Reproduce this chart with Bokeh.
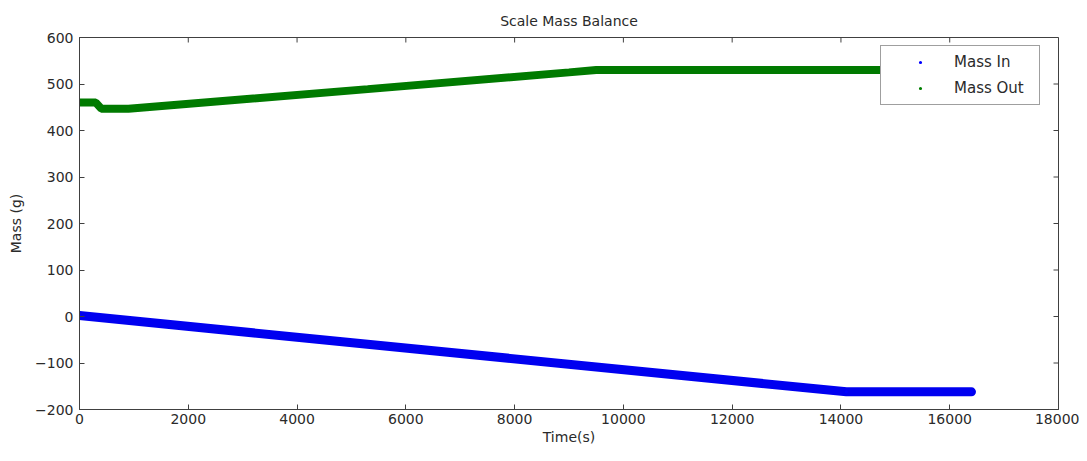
from bokeh.plotting import figure
from bokeh.models import Range1d, FixedTicker, Legend, LegendItem
from bokeh.embed import file_html
from bokeh.resources import INLINE

time_in = [0, 14100, 16400]
mass_in = [2, -162, -162]

time_out = [0, 300, 400, 900, 5300, 9000, 9500, 16400]
mass_out = [460, 460, 447, 447, 489, 525, 530, 530]

x_ticks = [0, 2000, 4000, 6000, 8000, 10000, 12000, 14000, 16000, 18000]
y_ticks = [-200, -100, 0, 100, 200, 300, 400, 500, 600]

X0, X1, Y0, Y1 = 0, 18000, -200, 600
FONT = "DejaVu Sans"
TXT = "#2a2a2a"
AX = "#404040"

W, H = 1079, 453
BL, BR, BT, BB = 79, 21, 37, 44

p = figure(width=W, height=H, output_backend="svg", toolbar_location=None,
           x_range=Range1d(X0, X1), y_range=Range1d(Y0, Y1),
           min_border_left=BL, min_border_right=BR, min_border_top=BT, min_border_bottom=BB,
           title="Scale Mass Balance")
p.title.align = "center"
p.title.text_font = FONT
p.title.text_font_size = "14px"
p.title.text_font_style = "normal"
p.title.text_color = TXT
p.title.standoff = 18
p.xgrid.visible = False
p.ygrid.visible = False
p.outline_line_color = AX
p.outline_line_width = 1
p.background_fill_color = "white"

for ax, ticks in ((p.xaxis[0], x_ticks), (p.yaxis[0], y_ticks)):
    ax.ticker = FixedTicker(ticks=ticks)
    ax.major_tick_in = 5
    ax.major_tick_out = 0
    ax.minor_tick_line_color = None
    ax.axis_line_color = AX
    ax.major_tick_line_color = AX
    ax.major_label_text_font = FONT
    ax.major_label_text_font_size = "14px"
    ax.major_label_text_color = TXT
    ax.axis_label_text_font = FONT
    ax.axis_label_text_font_size = "14px"
    ax.axis_label_text_font_style = "normal"
    ax.axis_label_text_color = TXT
p.xaxis[0].axis_label = "Time(s)"
p.xaxis[0].axis_label_standoff = 2
p.xaxis[0].major_label_standoff = 4
p.yaxis[0].axis_label = "Mass (g)"
p.yaxis[0].axis_label_standoff = 8
p.yaxis[0].major_label_standoff = 6

# mirrored inward ticks on top and right edges (MATLAB box style)
frame_w = W - BL - BR
frame_h = H - BT - BB
tick_px = 5
dy = tick_px * (Y1 - Y0) / frame_h
dx = tick_px * (X1 - X0) / frame_w
p.segment(x0=x_ticks, y0=[Y1] * len(x_ticks), x1=x_ticks, y1=[Y1 - dy] * len(x_ticks),
          line_color=AX, line_width=1)
p.segment(x0=[X1] * len(y_ticks), y0=y_ticks, x1=[X1 - dx] * len(y_ticks), y1=y_ticks,
          line_color=AX, line_width=1)

# traces
p.line(time_in, mass_in, line_color="#0000f0", line_width=9, line_cap="round")
p.line(time_out, mass_out, line_color="#007a00", line_width=8, line_cap="round")
s_in = p.scatter(time_in, mass_in, size=3, color="#0000ff", line_color=None)
s_out = p.scatter(time_out, mass_out, size=3, color="#007f00", line_color=None)

legend = Legend(items=[LegendItem(label="Mass In", renderers=[s_in]),
                       LegendItem(label="Mass Out", renderers=[s_out])],
                location=(801, 304), padding=6, spacing=6, glyph_width=66,
                glyph_height=8, label_height=20, label_width=79, label_standoff=1,
                label_text_font=FONT, label_text_font_size="15px", label_text_color=TXT,
                border_line_color=AX, border_line_width=1,
                background_fill_color="white", background_fill_alpha=1.0, margin=0)
p.add_layout(legend, "center")

open("out.html", "w").write(file_html(p, INLINE))
